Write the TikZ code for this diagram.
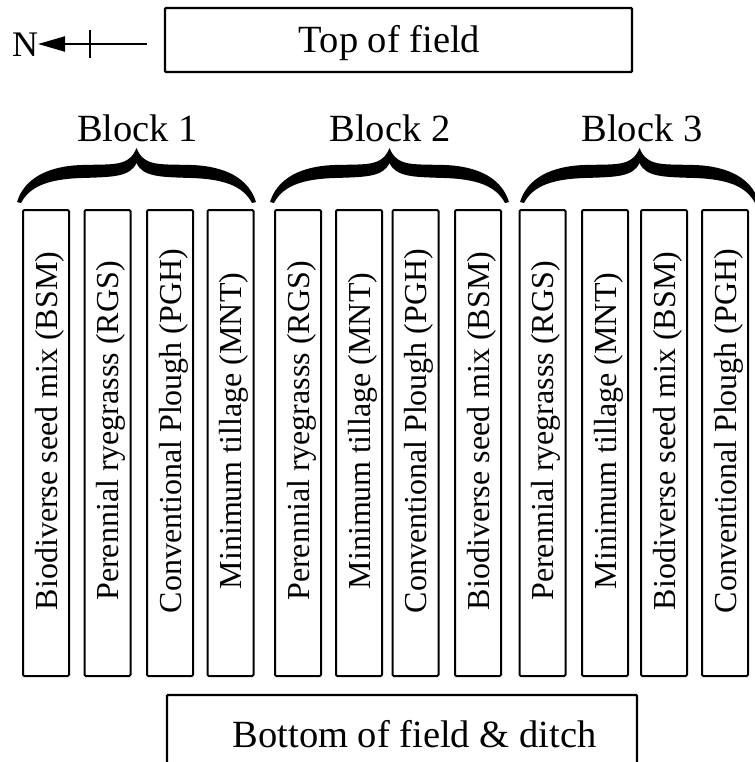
\documentclass[tikz,border=0pt]{standalone}
\usepackage{fontspec}
\setmainfont{Liberation Serif}
\usetikzlibrary{arrows.meta}
\newcommand\fieldbrace[1]{%
  \begin{scope}[shift={(#1,0)}]
    \fill (0,202) .. controls (7,179) and (30,166) .. (65,165)
      .. controls (96,164) and (112,167) .. (119.5,148)
      .. controls (127,167) and (143,164) .. (174,165)
      .. controls (209,166) and (232,179) .. (239,202)
      -- (235,203)
      .. controls (226,186) and (207,179) .. (174,178)
      .. controls (143,177) and (126,177) .. (119.5,163)
      .. controls (113,177) and (96,177) .. (65,178)
      .. controls (32,179) and (13,186) .. (4,203) -- cycle;
  \end{scope}}
\begin{document}
\begin{tikzpicture}[x=1pt,y=-1pt,
  frame/.style={draw, line width=2.2pt, rounded corners=1pt, inner sep=0pt},
  stripbox/.style={draw, line width=2pt, rounded corners=1.2pt, inner sep=0pt,
    minimum width=46pt, minimum height=466pt},
  bigtext/.style={font=\fontsize{38.5}{40}\selectfont, inner sep=0pt, anchor=base},
  striptext/.style={font=\fontsize{32}{34}\selectfont, inner sep=0pt, anchor=base, rotate=90},
]
\useasboundingbox (0,0) rectangle (754,762);
% north arrow
\node[font=\fontsize{36}{38}\selectfont, inner sep=0pt, anchor=base] (N) at (25,57) {N};
\coordinate (ns) at (147,44);
\coordinate (ne) at (38,44);
\coordinate (ta) at (90,30);
\coordinate (tb) at (90,58);
\draw[line width=2pt, -{Triangle[length=27pt,width=15pt]}] (ns) -- (ne);
\draw[line width=2pt] (ta) -- (tb);
% top box
\node[frame, minimum width=467pt, minimum height=64pt] (top) at (398.5,40) {};
\node[bigtext] (toptext) at (389.5,53) {Top of field};
% bottom box (open at the bottom edge of the picture)
\coordinate (b1) at (167,775);
\coordinate (b2) at (167,695);
\coordinate (b3) at (637,695);
\coordinate (b4) at (637,775);
\draw[line width=2.2pt, rounded corners=1pt] (b1) -- (b2) -- (b3) -- (b4);
\node[bigtext] (bottomtext) at (414.5,747) {Bottom of field \& ditch};
% blocks
\node[bigtext] (blk1) at (137.5,142) {Block 1};
\node[bigtext] (blk2) at (390,142) {Block 2};
\node[bigtext] (blk3) at (642,142) {Block 3};
\fieldbrace{17}
\fieldbrace{270}
\fieldbrace{520}
% strips
\foreach \i/\x/\t in {
  1/46/{Biodiverse seed mix (BSM)},
  2/107.5/{Perennial ryegrasss (RGS)},
  3/170/{Conventional Plough (PGH)},
  4/230.5/{Minimum tillage (MNT)},
  5/298/{Perennial ryegrasss (RGS)},
  6/359/{Minimum tillage (MNT)},
  7/415.5/{Conventional Plough (PGH)},
  8/478/{Biodiverse seed mix (BSM)},
  9/542.5/{Perennial ryegrasss (RGS)},
  10/605/{Minimum tillage (MNT)},
  11/664/{Biodiverse seed mix (BSM)},
  12/725/{Conventional Plough (PGH)}}{
  \node[stripbox] (s\i) at (\x,443) {};
  \node[striptext] (t\i) at (\x+11,431) {\t};
}
\end{tikzpicture}
\end{document}
